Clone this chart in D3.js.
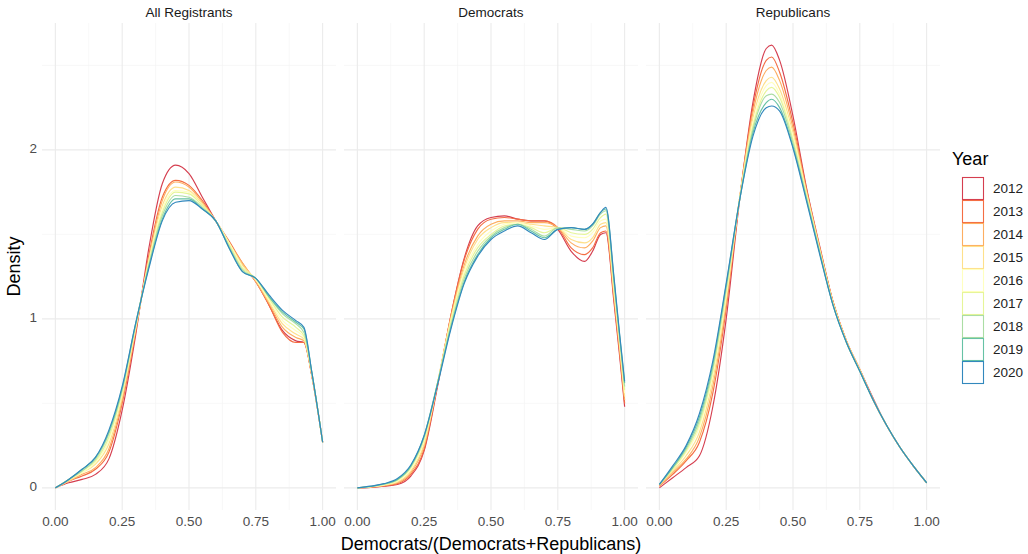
<!DOCTYPE html>
<html>
<head>
<meta charset="utf-8">
<script src="https://cdn.jsdelivr.net/npm/d3@7"></script>
<style>
  html, body { margin: 0; padding: 0; background: #ffffff; }
  svg { display: block; font-family: "Liberation Sans", Arial, Helvetica, sans-serif; }
</style>
</head>
<body>
<svg id="chart" width="1028" height="554"></svg>
<script>
// ---------------- DATA ----------------
const years = ["2012", "2013", "2014", "2015", "2016", "2017", "2018", "2019", "2020"];
const yearColors = ["#D53E4F", "#F46D43", "#FDAE61", "#FEE08B", "#FFFFBF", "#E6F598", "#ABDDA4", "#66C2A5", "#3288BD"];
const panelTitles = ["All Registrants", "Democrats", "Republicans"];
const xTicks = [0, 0.25, 0.5, 0.75, 1];
const xTickLabels = ["0.00", "0.25", "0.50", "0.75", "1.00"];
const yTicks = [0, 1, 2];
const yTickLabels = ["0", "1", "2"];

// x positions at which densities were read, per panel
const allX = [0, .05, .1, .15, .2, .25, .3, .35, .4, .45, .5, .55, .6, .65, .7, .75, .8, .85, .9, .93, .96, 1];
const demX = [0, .05, .1, .15, .2, .25, .3, .35, .4, .45, .5, .55, .6, .65, .7, .75, .8, .85, .88, .91, .93, .96, .98, 1];
const repX = [0, .05, .1, .15, .2, .25, .3, .35, .4, .42, .45, .5, .55, .6, .65, .7, .75, .8, .85, .9, .95, 1];

// densities, one row per year (2012 ... 2020)
const allRegistrants = [
  [0, .03, .05, .08, .17, .46, .90, 1.42, 1.80, 1.91, 1.86, 1.72, 1.58, 1.45, 1.32, 1.22, 1.08, 0.93, 0.87, 0.86, 0.66, 0.27],
  [0, .04, .07, .11, .21, .50, .92, 1.38, 1.72, 1.82, 1.79, 1.70, 1.58, 1.46, 1.33, 1.22, 1.08, 0.92, 0.86, 0.86, 0.66, 0.27],
  [0, .04, .08, .12, .23, .52, .93, 1.36, 1.70, 1.81, 1.78, 1.69, 1.58, 1.45, 1.33, 1.22, 1.09, 0.95, 0.89, 0.87, 0.66, 0.27],
  [0, .04, .09, .14, .26, .54, .94, 1.35, 1.67, 1.78, 1.76, 1.68, 1.58, 1.45, 1.32, 1.23, 1.10, 0.97, 0.91, 0.88, 0.67, 0.27],
  [0, .05, .09, .15, .28, .56, .95, 1.34, 1.65, 1.76, 1.75, 1.67, 1.58, 1.45, 1.31, 1.23, 1.11, 0.99, 0.93, 0.89, 0.67, 0.27],
  [0, .05, .10, .16, .30, .57, .96, 1.33, 1.63, 1.75, 1.74, 1.67, 1.58, 1.44, 1.30, 1.24, 1.12, 1.01, 0.95, 0.90, 0.67, 0.27],
  [0, .05, .10, .17, .32, .58, .96, 1.32, 1.61, 1.73, 1.72, 1.66, 1.58, 1.43, 1.29, 1.24, 1.13, 1.03, 0.97, 0.92, 0.68, 0.27],
  [0, .05, .11, .18, .33, .59, .97, 1.31, 1.59, 1.71, 1.71, 1.65, 1.58, 1.42, 1.28, 1.24, 1.13, 1.04, 0.98, 0.94, 0.68, 0.27],
  [0, .05, .11, .18, .34, .60, .97, 1.30, 1.58, 1.69, 1.70, 1.65, 1.58, 1.42, 1.28, 1.24, 1.14, 1.05, 0.99, 0.95, 0.68, 0.27]
];
const democrats = [
  [0, .003, .010, .020, .070, .22, .60, 1.02, 1.36, 1.55, 1.60, 1.61, 1.59, 1.58, 1.58, 1.53, 1.40, 1.34, 1.40, 1.50, 1.51, 1.10, 0.80, 0.48],
  [0, .004, .012, .025, .080, .23, .61, 1.02, 1.35, 1.53, 1.59, 1.60, 1.59, 1.58, 1.58, 1.54, 1.42, 1.38, 1.42, 1.51, 1.52, 1.12, 0.82, 0.50],
  [0, .005, .014, .030, .090, .25, .62, 1.01, 1.32, 1.49, 1.56, 1.58, 1.58, 1.57, 1.57, 1.54, 1.45, 1.42, 1.46, 1.54, 1.55, 1.14, 0.84, 0.52],
  [0, .006, .016, .035, .100, .26, .62, 1.00, 1.30, 1.47, 1.54, 1.57, 1.57, 1.56, 1.55, 1.54, 1.47, 1.45, 1.48, 1.56, 1.57, 1.16, 0.86, 0.54],
  [0, .007, .018, .040, .110, .28, .62, 0.99, 1.28, 1.44, 1.52, 1.56, 1.57, 1.55, 1.53, 1.54, 1.49, 1.48, 1.51, 1.58, 1.59, 1.18, 0.88, 0.56],
  [0, .008, .020, .045, .120, .29, .62, 0.98, 1.26, 1.42, 1.50, 1.55, 1.56, 1.54, 1.51, 1.54, 1.51, 1.50, 1.53, 1.60, 1.62, 1.20, 0.90, 0.58],
  [0, .008, .022, .050, .125, .30, .62, 0.96, 1.24, 1.40, 1.49, 1.54, 1.56, 1.53, 1.49, 1.54, 1.53, 1.52, 1.55, 1.62, 1.64, 1.22, 0.91, 0.60],
  [0, .009, .024, .050, .130, .31, .62, 0.95, 1.22, 1.38, 1.48, 1.53, 1.56, 1.52, 1.48, 1.53, 1.54, 1.53, 1.56, 1.63, 1.65, 1.24, 0.92, 0.62],
  [0, .010, .025, .055, .135, .31, .61, 0.94, 1.21, 1.37, 1.47, 1.52, 1.55, 1.51, 1.47, 1.53, 1.54, 1.53, 1.56, 1.63, 1.66, 1.25, 0.93, 0.63]
];
const republicans = [
  [0.00, .06, .12, .19, .48, 1.00, 1.70, 2.28, 2.60, 2.62, 2.53, 2.20, 1.78, 1.43, 1.10, 0.87, 0.70, 0.53, 0.37, 0.24, 0.13, 0.03],
  [0.01, .08, .16, .27, .56, 1.06, 1.71, 2.25, 2.53, 2.55, 2.46, 2.16, 1.77, 1.42, 1.10, 0.87, 0.70, 0.52, 0.37, 0.24, 0.13, 0.03],
  [0.01, .09, .17, .30, .60, 1.09, 1.71, 2.22, 2.47, 2.49, 2.41, 2.13, 1.76, 1.42, 1.10, 0.87, 0.70, 0.52, 0.37, 0.24, 0.13, 0.03],
  [0.02, .10, .19, .33, .64, 1.12, 1.71, 2.19, 2.41, 2.43, 2.36, 2.10, 1.75, 1.41, 1.09, 0.87, 0.70, 0.52, 0.37, 0.24, 0.13, 0.03],
  [0.02, .11, .21, .36, .67, 1.14, 1.71, 2.16, 2.38, 2.40, 2.33, 2.08, 1.74, 1.40, 1.09, 0.86, 0.69, 0.52, 0.37, 0.24, 0.13, 0.03],
  [0.02, .11, .22, .38, .69, 1.16, 1.71, 2.14, 2.35, 2.37, 2.31, 2.06, 1.73, 1.40, 1.09, 0.86, 0.69, 0.52, 0.37, 0.24, 0.13, 0.03],
  [0.02, .12, .23, .40, .71, 1.18, 1.70, 2.12, 2.32, 2.33, 2.28, 2.04, 1.72, 1.39, 1.08, 0.86, 0.69, 0.52, 0.37, 0.24, 0.13, 0.03],
  [0.02, .12, .24, .42, .73, 1.20, 1.70, 2.10, 2.28, 2.30, 2.25, 2.02, 1.71, 1.39, 1.08, 0.86, 0.69, 0.52, 0.37, 0.24, 0.13, 0.03],
  [0.02, .13, .25, .44, .75, 1.21, 1.70, 2.08, 2.25, 2.26, 2.23, 2.01, 1.70, 1.38, 1.08, 0.86, 0.69, 0.52, 0.37, 0.24, 0.13, 0.03]
];

// ---------------- LAYOUT ----------------
const panelXs = [allX, demX, repX];
const panelYs = [allRegistrants, democrats, republicans];

const svg = d3.select("#chart");
const panelLeft = 42, panelW = 294, panelGap = 8;
const panelTop = 23, panelBottom = 510;

const allMax = d3.max(panelYs.flat(2));
const yPad = allMax * 0.05;
const y = d3.scaleLinear().domain([-yPad, allMax + yPad]).range([panelBottom, panelTop]);
const yMinor = [0.5, 1.5, 2.5];
const xMinor = [0.125, 0.375, 0.625, 0.875];

panelTitles.forEach((title, p) => {
  const x0 = panelLeft + p * (panelW + panelGap);
  const x = d3.scaleLinear().domain([-0.05, 1.05]).range([x0, x0 + panelW]);
  const g = svg.append("g");

  // minor grid
  g.selectAll(".vminor").data(xMinor).join("line")
    .attr("x1", d => x(d)).attr("x2", d => x(d))
    .attr("y1", panelTop).attr("y2", panelBottom)
    .attr("stroke", "#f3f3f3").attr("stroke-width", 0.6);
  g.selectAll(".hminor").data(yMinor.filter(v => y(v) >= panelTop)).join("line")
    .attr("x1", x0).attr("x2", x0 + panelW)
    .attr("y1", d => y(d)).attr("y2", d => y(d))
    .attr("stroke", "#f3f3f3").attr("stroke-width", 0.6);
  // major grid
  g.selectAll(".vmajor").data(xTicks).join("line")
    .attr("x1", d => x(d)).attr("x2", d => x(d))
    .attr("y1", panelTop).attr("y2", panelBottom)
    .attr("stroke", "#ebebeb").attr("stroke-width", 1.1);
  g.selectAll(".hmajor").data(yTicks).join("line")
    .attr("x1", x0).attr("x2", x0 + panelW)
    .attr("y1", d => y(d)).attr("y2", d => y(d))
    .attr("stroke", "#ebebeb").attr("stroke-width", 1.1);

  // strip title
  svg.append("text")
    .attr("x", x0 + panelW / 2).attr("y", 13)
    .attr("text-anchor", "middle").attr("dominant-baseline", "middle")
    .attr("font-size", 13.5).attr("fill", "#1a1a1a")
    .text(title);

  // x tick labels
  g.selectAll(".xtl").data(xTicks).join("text")
    .attr("x", d => x(d)).attr("y", 522)
    .attr("text-anchor", "middle").attr("dominant-baseline", "middle")
    .attr("font-size", 13.5).attr("fill", "#4d4d4d")
    .text((d, i) => xTickLabels[i]);

  // density curves
  const xs = panelXs[p];
  const line = d3.line()
    .x((d, i) => x(xs[i]))
    .y(d => y(d))
    .curve(d3.curveMonotoneX);
  panelYs[p].forEach((vals, k) => {
    g.append("path")
      .attr("d", line(vals))
      .attr("fill", "none")
      .attr("stroke", yearColors[k])
      .attr("stroke-width", 1.15)
      .attr("stroke-linejoin", "round");
  });
});

// y tick labels
svg.selectAll(".ytl").data(yTicks).join("text")
  .attr("x", 37).attr("y", d => y(d))
  .attr("text-anchor", "end").attr("dominant-baseline", "middle")
  .attr("font-size", 13.5).attr("fill", "#4d4d4d")
  .text((d, i) => yTickLabels[i]);

// axis titles
svg.append("text")
  .attr("x", panelLeft + (3 * panelW + 2 * panelGap) / 2).attr("y", 545)
  .attr("text-anchor", "middle").attr("dominant-baseline", "middle")
  .attr("font-size", 18).attr("fill", "#000")
  .text("Democrats/(Democrats+Republicans)");
svg.append("text")
  .attr("transform", `translate(15,${(panelTop + panelBottom) / 2}) rotate(-90)`)
  .attr("text-anchor", "middle").attr("dominant-baseline", "middle")
  .attr("font-size", 18).attr("fill", "#000")
  .text("Density");

// legend
const legX = 952, keyX = 962, keyW = 21, rowH = 23, legTop = 177;
svg.append("text")
  .attr("x", legX).attr("y", 160)
  .attr("dominant-baseline", "middle")
  .attr("font-size", 18).attr("fill", "#000")
  .text("Year");
years.forEach((yr, k) => {
  const ry = legTop + k * rowH;
  svg.append("rect")
    .attr("x", keyX + 0.5).attr("y", ry + 0.5)
    .attr("width", keyW).attr("height", rowH - 1)
    .attr("fill", "none").attr("stroke", yearColors[k]).attr("stroke-width", 1.1);
  svg.append("text")
    .attr("x", 993).attr("y", ry + rowH / 2 + 0.5)
    .attr("dominant-baseline", "middle")
    .attr("font-size", 13.5).attr("fill", "#222")
    .text(yr);
});
</script>
</body>
</html>
